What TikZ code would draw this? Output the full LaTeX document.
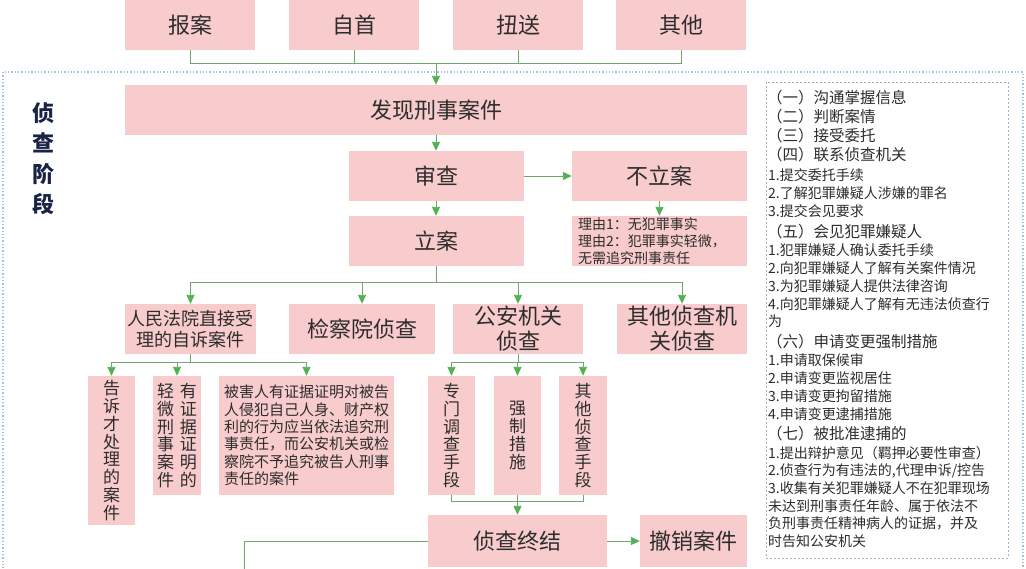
\documentclass[tikz,border=0pt]{standalone}
\usepackage{fontspec}
\setmainfont{Noto Sans CJK SC}
\usetikzlibrary{arrows.meta}
\definecolor{boxpink}{RGB}{248,203,204}
\definecolor{txt}{RGB}{45,45,45}
\definecolor{gline}{RGB}{115,165,115}
\definecolor{garrow}{RGB}{80,178,80}
\definecolor{dotblue}{RGB}{160,195,215}
\definecolor{dashgray}{RGB}{175,175,175}
\definecolor{navy}{RGB}{25,35,70}
\begin{document}
\begin{tikzpicture}[x=1pt,y=-1pt,
  box/.style={fill=boxpink, inner sep=0pt, text=txt, align=center, font=\fontsize{22}{26}\selectfont},
  vbox/.style={box, font=\fontsize{17}{17.8}\selectfont},
  conn/.style={draw=gline, line width=0.9pt},
  arr/.style={conn, -{Triangle[width=8pt,length=9pt,color=garrow]}},
  hd/.style={anchor=west, inner sep=0pt, text=txt, font=\fontsize{15.5}{18}\selectfont},
  it/.style={anchor=west, inner sep=0pt, text=txt, font=\fontsize{14}{17}\selectfont},
  lbl/.style={inner sep=0pt, text=navy, font=\bfseries\fontsize{22}{22}\selectfont}
]
\useasboundingbox[fill=white] (0,0) rectangle (1026,568);

% frames
\draw[dotblue, dotted, line width=1.3pt] (3,575) -- (3,72) -- (1023,72) -- (1023,575);
\draw[dashgray, dash pattern=on 2pt off 2pt, line width=0.8pt] (766,82) rectangle (1008,558);

% stage label
\node[lbl] (zc1) at (43,113) {侦};
\node[lbl] (zc2) at (43,143) {查};
\node[lbl] (zc3) at (43,174) {阶};
\node[lbl] (zc4) at (43,204) {段};

% top sources
\node[box, minimum width=130, minimum height=50] (ba) at (190,25) {报案};
\node[box, minimum width=130, minimum height=50] (zs) at (354,25) {自首};
\node[box, minimum width=130, minimum height=50] (ns) at (518,25) {扭送};
\node[box, minimum width=130, minimum height=50] (qt0) at (681,25) {其他};

% main flow
\node[box, minimum width=622, minimum height=50] (fx) at (436,110) {发现刑事案件};
\node[box, minimum width=175, minimum height=50] (sc) at (436,176) {审查};
\node[box, minimum width=175, minimum height=50] (bla) at (659.5,176) {不立案};
\node[box, minimum width=175, minimum height=50] (la) at (436,241) {立案};
\node[box, minimum width=175, minimum height=50, text width=163, inner xsep=6pt, align=left, font=\fontsize{14}{17}\selectfont] (ly) at (659.5,241) {理由1：无犯罪事实\\理由2：犯罪事实轻微，\\无需追究刑事责任};

% row of investigating bodies
\node[box, minimum width=131, minimum height=50, font=\fontsize{18}{21}\selectfont] (rm) at (190.5,329) {人民法院直接受\\理的自诉案件};
\node[box, minimum width=146, minimum height=50] (jc) at (362,329) {检察院侦查};
\node[box, minimum width=130, minimum height=50, font=\fontsize{22}{25}\selectfont] (ga) at (518,329) {公安机关\\侦查};
\node[box, minimum width=130, minimum height=50, font=\fontsize{22}{25}\selectfont] (qt) at (682,329) {其他侦查机\\关侦查};

% sub boxes of court
\node[vbox, minimum width=47, minimum height=149] (gs) at (111.5,450.5) {告\\诉\\才\\处\\理\\的\\案\\件};
\node[vbox, minimum width=48, minimum height=119] (yz) at (177,435.5) {轻\hspace{6pt}有\\微\hspace{6pt}证\\刑\hspace{6pt}据\\事\hspace{6pt}证\\案\hspace{6pt}明\\件\hspace{6pt}的};
\node[box, minimum width=175, minimum height=119, align=left, font=\fontsize{15}{17.3}\selectfont] (bh) at (306.5,435.5) {被害人有证据证明对被告\\人侵犯自己人身、财产权\\利的行为应当依法追究刑\\事责任，而公安机关或检\\察院不予追究被告人刑事\\责任的案件};

% sub boxes of police
\node[vbox, minimum width=47, minimum height=119] (zm) at (451.5,435.5) {专\\门\\调\\查\\手\\段};
\node[vbox, minimum width=47, minimum height=119] (qz) at (517.5,435.5) {强\\制\\措\\施};
\node[vbox, minimum width=48, minimum height=119] (qs) at (583,435.5) {其\\他\\侦\\查\\手\\段};

% ending
\node[box, minimum width=179, minimum height=52] (jz) at (517.5,541) {侦查终结};
\node[box, minimum width=107, minimum height=52] (cx) at (693.5,541) {撤销案件};

% right panel text
\node[hd] (p1) at (767,98) {（一）沟通掌握信息};
\node[hd] (p2) at (767,117) {（二）判断案情};
\node[hd] (p3) at (767,136) {（三）接受委托};
\node[hd] (p4) at (767,155) {（四）联系侦查机关};
\node[it] (p5) at (768,175) {1.提交委托手续};
\node[it] (p6) at (768,193) {2.了解犯罪嫌疑人涉嫌的罪名};
\node[it] (p7) at (768,211) {3.提交会见要求};
\node[hd] (p8) at (767,232) {（五）会见犯罪嫌疑人};
\node[it] (p9) at (768,250) {1.犯罪嫌疑人确认委托手续};
\node[it] (p10) at (768,268) {2.向犯罪嫌疑人了解有关案件情况};
\node[it] (p11) at (768,286) {3.为犯罪嫌疑人提供法律咨询};
\node[it] (p12) at (768,304) {4.向犯罪嫌疑人了解有无违法侦查行};
\node[it] (p13) at (768,321) {为};
\node[hd] (p14) at (767,342) {（六）申请变更强制措施};
\node[it] (p15) at (768,360) {1.申请取保候审};
\node[it] (p16) at (768,378) {2.申请变更监视居住};
\node[it] (p17) at (768,396) {3.申请变更拘留措施};
\node[it] (p18) at (768,414) {4.申请变更逮捕措施};
\node[hd] (p19) at (767,434) {（七）被批准逮捕的};
\node[it] (p20) at (768,453) {1.提出辩护意见（羁押必要性审查）};
\node[it] (p21) at (768,471) {2.侦查行为有违法的,代理申诉/控告};
\node[it] (p22) at (768,488) {3.收集有关犯罪嫌疑人不在犯罪现场};
\node[it] (p23) at (768,506) {未达到刑事责任年龄、属于依法不};
\node[it] (p24) at (768,523) {负刑事责任精神病人的证据，并及};
\node[it] (p25) at (768,541) {时告知公安机关};

% connectors: sources -> 发现
\coordinate (j1) at (436,63);
\draw[conn] (ba.south) -- (ba.south |- j1) -- (qt0.south |- j1) -- (qt0.south);
\draw[conn] (zs.south) -- (zs.south |- j1);
\draw[conn] (ns.south) -- (ns.south |- j1);
\draw[arr] (j1) -- (fx.north);

\draw[arr] (fx.south) -- (sc.north);
\draw[arr] (sc.east) -- (bla.west);
\draw[arr] (sc.south) -- (la.north);
\draw[arr] (bla.south) -- (ly.north);

% 立案 -> bodies
\coordinate (j2) at (436,282);
\draw[conn] (la.south) -- (j2);
\draw[conn] (rm.north |- j2) -- (qt.north |- j2);
\draw[arr] (rm.north |- j2) -- (rm.north);
\draw[arr] (jc.north |- j2) -- (jc.north);
\draw[arr] (ga.north |- j2) -- (ga.north);
\draw[arr] (qt.north |- j2) -- (qt.north);

% court branch
\coordinate (j3) at (190.5,362);
\draw[conn] (rm.south) -- (j3);
\draw[conn] (gs.north |- j3) -- (bh.north |- j3);
\draw[arr] (gs.north |- j3) -- (gs.north);
\draw[arr] (yz.north |- j3) -- (yz.north);
\draw[arr] (bh.north |- j3) -- (bh.north);

% police branch
\coordinate (j4) at (518,362);
\draw[conn] (ga.south) -- (j4);
\draw[conn] (zm.north |- j4) -- (qs.north |- j4);
\draw[arr] (zm.north |- j4) -- (zm.north);
\draw[arr] (qz.north |- j4) -- (qz.north);
\draw[arr] (qs.north |- j4) -- (qs.north);

% merge to 侦查终结
\coordinate (j5) at (517.5,501);
\draw[conn] (zm.south) -- (zm.south |- j5) -- (qs.south |- j5) -- (qs.south);
\draw[arr] (qz.south) -- (jz.north);
\draw[arr] (jz.east) -- (cx.west);
\coordinate (out) at (244,575);
\draw[conn] (jz.west) -| (out);
\end{tikzpicture}
\end{document}
